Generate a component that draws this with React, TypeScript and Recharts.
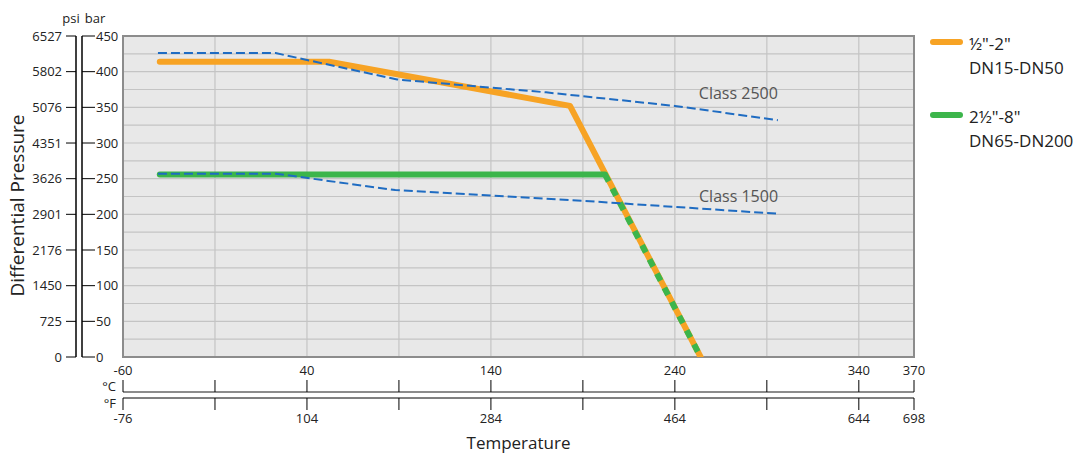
import {
  CartesianGrid,
  LabelList,
  Legend,
  Line,
  LineChart,
  ReferenceArea,
  XAxis,
  YAxis,
} from "recharts";

// temperature axis (°C), with matching °F labels
const tempTicksC = [-60, -10, 40, 90, 140, 190, 240, 290, 340, 370];
const labeledC = [-60, 40, 140, 240, 340, 370];
const labelsF = ["-76", "104", "284", "464", "644", "698"];

// pressure axes
const barTicks = [0, 50, 100, 150, 200, 250, 300, 350, 400, 450];
const psiTicks = [0, 725, 1450, 2176, 2901, 3626, 4351, 5076, 5802, 6527];
const gridBars = [0, 25, 50, 75, 100, 125, 150, 175, 200, 225, 250, 275, 300, 325, 350, 375, 400, 425, 450];

// ½"-2" DN15-DN50
const smallTemp = [-40, 52, 183, 254];
const smallBar = [414, 414, 352, 0];

// 2½"-8" DN65-DN200 (solid part, then the shared dashed part)
const largeTemp = [-40, 202];
const largeBar = [256, 256];
const largeDashTemp = [202, 254];
const largeDashBar = [256, 0];

// ASME class limits
const class2500Temp = [-41, 23, 89, 170, 240, 296];
const class2500Bar = [426, 426, 389, 371, 352, 332];
const class1500Temp = [-41, 23, 88, 190, 295];
const class1500Bar = [257, 257, 234, 219, 201];

const FONT = "'Open Sans', sans-serif";
const ORANGE = "#f7a324";
const GREEN = "#3cb54b";
const BLUE = "#1f6cc2";
const TEXT = "#222";

const zip = (t: number[], v: number[]) => t.map((x, i) => ({ t: x, v: v[i] }));

const legendItems = [
  { color: ORANGE, lines: ['½"-2"', "DN15-DN50"] },
  { color: GREEN, lines: ['2½"-8"', "DN65-DN200"] },
];

function LegendBox() {
  return (
    <div style={{ position: "relative", width: 155, height: 135, fontFamily: FONT, fontSize: 17, color: TEXT, lineHeight: "24px" }}>
      {legendItems.map((it, i) => (
        <div key={i} style={{ position: "absolute", left: 0, top: i * 73 }}>
          <svg width={40} height={12} style={{ position: "absolute", left: 0, top: 4 }}>
            <line x1={8} y1={6} x2={35} y2={6} stroke={it.color} strokeWidth={6} strokeLinecap="round" />
          </svg>
          <div style={{ position: "absolute", left: 44, top: 0, whiteSpace: "nowrap" }}>
            {it.lines.map((l) => (
              <div key={l}>{l}</div>
            ))}
          </div>
        </div>
      ))}
    </div>
  );
}

const fLabel = (v: number) => {
  const i = labeledC.indexOf(v);
  return i >= 0 ? labelsF[i] : "";
};
const noLabel = () => "";

const classLabel = (text: string, last: number, dx: number, dy: number) => (p: any) =>
  p.index === last ? (
    <text x={p.x + dx} y={p.y + dy} textAnchor="end" fontSize={16} fill="#555" fontFamily={FONT}>
      {text}
    </text>
  ) : null;

export default function App() {
  return (
    <div style={{ position: "absolute", left: 0, top: 0, width: 1080, height: 455, background: "#fff", fontFamily: FONT }}>
      <LineChart width={1080} height={455} margin={{ top: 36, right: 166, bottom: 0, left: 0 }}>
        <CartesianGrid
          xAxisId="cline"
          yAxisId="zgrid"
          fill="#e8e8e8"
          fillOpacity={1}
          stroke="#c4c4c4"
          strokeWidth={1.2}
        />

        {/* °C labels directly under the plot */}
        <XAxis
          xAxisId="c"
          dataKey="t"
          type="number"
          domain={[-60, 370]}
          allowDataOverflow
          ticks={labeledC}
          interval={0}
          height={35}
          axisLine={false}
          tickLine={false}
          tickSize={0}
          tickMargin={9}
          tick={{ fill: TEXT, fontSize: 13 }}
        />
        {/* °C scale line */}
        <XAxis
          xAxisId="cline"
          dataKey="t"
          type="number"
          domain={[-60, 370]}
          allowDataOverflow
          ticks={tempTicksC}
          interval={0}
          height={6}
          axisLine={{ stroke: "#8c8c8c", strokeWidth: 2 }}
          tickLine={{ stroke: "#000" }}
          tickSize={-12}
          tickFormatter={noLabel}
          label={{
            content: (p: any) => (
              <text x={p.viewBox.x - 7} y={p.viewBox.y - 1} textAnchor="end" fontSize={13} fill={TEXT}>
                °C
              </text>
            ),
          }}
        />
        {/* °F scale */}
        <XAxis
          xAxisId="f"
          dataKey="t"
          type="number"
          domain={[-60, 370]}
          allowDataOverflow
          ticks={tempTicksC}
          interval={0}
          height={57}
          axisLine={{ stroke: "#000" }}
          tickLine={{ stroke: "#000" }}
          tickSize={12}
          tickMargin={4}
          tickFormatter={fLabel}
          tick={{ fill: TEXT, fontSize: 13 }}
          label={{
            content: (p: any) => (
              <g>
                <text x={p.viewBox.x - 7} y={p.viewBox.y + 9.5} textAnchor="end" fontSize={13} fill={TEXT}>
                  °F
                </text>
                <text x={p.viewBox.x + p.viewBox.width / 2} y={p.viewBox.y + 51} textAnchor="middle" fontSize={17} fill={TEXT}>
                  Temperature
                </text>
              </g>
            ),
          }}
        />

        {/* bar labels, right of the bar scale line */}
        <YAxis
          yAxisId="bar"
          type="number"
          domain={[0, 450]}
          allowDataOverflow
          ticks={barTicks}
          interval={0}
          width={41}
          axisLine={false}
          tickLine={false}
          tickSize={0}
          tickMargin={27}
          tick={{ fill: TEXT, fontSize: 13, textAnchor: "start" }}
        />
        <YAxis
          yAxisId="barline"
          type="number"
          domain={[0, 450]}
          allowDataOverflow
          ticks={barTicks}
          interval={0}
          width={6}
          axisLine={{ stroke: "#000", strokeWidth: 1.5 }}
          tickLine={{ stroke: "#000" }}
          tickSize={-13}
          tickFormatter={noLabel}
          label={{
            content: (p: any) => (
              <text x={p.viewBox.x + p.viewBox.width + 13} y={p.viewBox.y - 13.5} textAnchor="middle" fontSize={13} fill={TEXT}>
                bar
              </text>
            ),
          }}
        />
        <YAxis
          yAxisId="psi"
          type="number"
          domain={[0, 6527]}
          allowDataOverflow
          ticks={psiTicks}
          interval={0}
          width={76}
          axisLine={{ stroke: "#000", strokeWidth: 1.5 }}
          tickLine={{ stroke: "#000" }}
          tickSize={10}
          tickMargin={4}
          tick={{ fill: TEXT, fontSize: 13 }}
          label={{
            content: (p: any) => {
              const { x, y, width, height } = p.viewBox;
              const cx = x + 17;
              const cy = y + height / 2 + 9;
              return (
                <g>
                  <text
                    x={cx}
                    y={cy}
                    transform={`rotate(-90 ${cx} ${cy})`}
                    textAnchor="middle"
                    dominantBaseline="central"
                    fontSize={19}
                    fill={TEXT}
                  >
                    Differential Pressure
                  </text>
                  <text x={x + width - 5} y={y - 13.5} textAnchor="middle" fontSize={13} fill={TEXT}>
                    psi
                  </text>
                </g>
              );
            },
          }}
        />
        {/* hidden axis carrying the 25 bar grid spacing */}
        <YAxis
          yAxisId="zgrid"
          type="number"
          domain={[0, 450]}
          allowDataOverflow
          ticks={gridBars}
          interval={0}
          width={0}
          hide
        />

        <ReferenceArea
          xAxisId="cline"
          yAxisId="bar"
          x1={-60}
          x2={370}
          y1={0}
          y2={450}
          fill="none"
          stroke="#8c8c8c"
          strokeWidth={2}
          ifOverflow="visible"
        />

        <Line
          xAxisId="cline"
          yAxisId="bar"
          data={zip(smallTemp, smallBar)}
          dataKey="v"
          stroke={ORANGE}
          strokeWidth={6}
          strokeLinecap="round"
          strokeLinejoin="round"
          dot={false}
          activeDot={false}
          isAnimationActive={false}
        />
        <Line
          xAxisId="cline"
          yAxisId="bar"
          data={zip(largeTemp, largeBar)}
          dataKey="v"
          stroke={GREEN}
          strokeWidth={6}
          strokeLinecap="round"
          dot={false}
          activeDot={false}
          isAnimationActive={false}
        />
        <Line
          xAxisId="cline"
          yAxisId="bar"
          data={zip(largeDashTemp, largeDashBar)}
          dataKey="v"
          stroke={GREEN}
          strokeWidth={6}
          strokeDasharray="8 8"
          dot={false}
          activeDot={false}
          isAnimationActive={false}
        />
        <Line
          xAxisId="cline"
          yAxisId="bar"
          data={zip(class2500Temp, class2500Bar)}
          dataKey="v"
          stroke={BLUE}
          strokeWidth={2}
          strokeDasharray="9 4"
          dot={false}
          activeDot={false}
          isAnimationActive={false}
        >
          <LabelList dataKey="v" content={classLabel("Class 2500", class2500Temp.length - 1, 0, -21)} />
        </Line>
        <Line
          xAxisId="cline"
          yAxisId="bar"
          data={zip(class1500Temp, class1500Bar)}
          dataKey="v"
          stroke={BLUE}
          strokeWidth={2}
          strokeDasharray="9 4"
          dot={false}
          activeDot={false}
          isAnimationActive={false}
        >
          <LabelList dataKey="v" content={classLabel("Class 1500", class1500Temp.length - 1, 2, -12)} />
        </Line>

        <Legend
          layout="vertical"
          align="center"
          verticalAlign="middle"
          wrapperStyle={{ left: 925, top: 32, width: 155, height: 135 }}
          content={() => <LegendBox />}
        />
      </LineChart>
    </div>
  );
}
